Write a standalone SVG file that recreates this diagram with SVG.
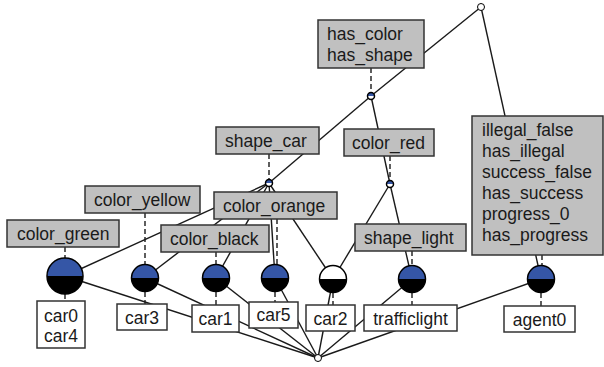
<svg xmlns="http://www.w3.org/2000/svg" xmlns:xlink="http://www.w3.org/1999/xlink" width="604" height="367" viewBox="0 0 604 367">
<style>
.e{stroke:#1a1a1a;stroke-width:1.4;fill:none}
.d{stroke:#1a1a1a;stroke-width:1.4;fill:none;stroke-dasharray:5,3}
.ab{fill:#c0c0c0;stroke:#333;stroke-width:1.5}
.ob{fill:#fff;stroke:#333;stroke-width:1.5}
text{font-family:"Liberation Sans",Arial,sans-serif;font-size:17.5px;fill:#1a1a1a}
.m{text-anchor:middle}
.blue{fill:#3556a6}
.blk{fill:#000}
.wht{fill:#fff}
.ring{fill:none;stroke:#000;stroke-width:1.5}
</style>
<defs>
<g id="medBB"><path class="blue" d="M-13.5,0A13.5,13.5 0 0 1 13.5,0Z"/><path class="blk" d="M-13.5,0A13.5,13.5 0 0 0 13.5,0Z"/><circle class="ring" r="13.5"/></g>
<g id="medWB"><path class="wht" d="M-13.5,0A13.5,13.5 0 0 1 13.5,0Z"/><path class="blk" d="M-13.5,0A13.5,13.5 0 0 0 13.5,0Z"/><circle class="ring" r="13.5"/></g>
<g id="bigBB"><path class="blue" d="M-18,0A18,18 0 0 1 18,0Z"/><path class="blk" d="M-18,0A18,18 0 0 0 18,0Z"/><circle class="ring" r="18"/></g>
<g id="smBW"><path class="blue" d="M-3.5,0A3.5,3.5 0 0 1 3.5,0Z"/><path class="wht" d="M-3.5,0A3.5,3.5 0 0 0 3.5,0Z"/><circle class="ring" r="3.5" stroke-width="1"/></g>
<g id="smWW"><circle r="3.5" fill="#fff" stroke="#000" stroke-width="1"/></g>
</defs>

<g id="connectors">
<line class="e" x1="481" y1="7" x2="371" y2="96"/>
<line class="e" x1="481" y1="7" x2="541" y2="279"/>
<line class="e" x1="371" y1="96" x2="269" y2="183"/>
<line class="e" x1="371" y1="96" x2="390" y2="184"/>
<line class="e" x1="269" y1="183" x2="65" y2="276"/>
<line class="e" x1="269" y1="183" x2="145" y2="278"/>
<line class="e" x1="269" y1="183" x2="216" y2="278"/>
<line class="e" x1="269" y1="183" x2="275" y2="278"/>
<line class="e" x1="269" y1="183" x2="333" y2="279"/>
<line class="e" x1="390" y1="184" x2="333" y2="279"/>
<line class="e" x1="390" y1="184" x2="412" y2="279"/>
<line class="e" x1="65" y1="276" x2="318" y2="358"/>
<line class="e" x1="145" y1="278" x2="318" y2="358"/>
<line class="e" x1="216" y1="278" x2="318" y2="358"/>
<line class="e" x1="275" y1="278" x2="318" y2="358"/>
<line class="e" x1="333" y1="279" x2="318" y2="358"/>
<line class="e" x1="412" y1="279" x2="318" y2="358"/>
<line class="e" x1="541" y1="279" x2="318" y2="358"/>
<!-- label leaders -->
<line class="d" x1="371" y1="68" x2="371" y2="92"/>
<line class="d" x1="269" y1="154" x2="269" y2="179"/>
<line class="d" x1="390" y1="156" x2="390" y2="180"/>
<line class="d" x1="65" y1="247" x2="65" y2="258"/>
<line class="d" x1="145" y1="213" x2="145" y2="264"/>
<line class="d" x1="216" y1="252" x2="216" y2="264"/>
<line class="d" x1="277" y1="219" x2="277" y2="264"/>
<line class="d" x1="412" y1="251" x2="412" y2="265"/>
<line class="d" x1="542" y1="255" x2="542" y2="265"/>
<line class="d" x1="65" y1="294" x2="65" y2="301"/>
<line class="d" x1="145" y1="292" x2="145" y2="304"/>
<line class="d" x1="216" y1="292" x2="216" y2="305"/>
<line class="d" x1="275" y1="292" x2="275" y2="302"/>
<line class="d" x1="333" y1="293" x2="333" y2="305"/>
<line class="d" x1="412" y1="293" x2="412" y2="305"/>
<line class="d" x1="541" y1="293" x2="541" y2="306"/>
</g>

<g id="top"><use xlink:href="#smWW" x="481" y="7"/></g>
<g id="bottom"><use xlink:href="#smWW" x="318" y="358"/></g>

<g id="n-has"><use xlink:href="#smBW" x="371" y="96"/>
<rect class="ab" x="318" y="20" width="106" height="48"/>
<text x="327" y="40">has_color</text><text x="327" y="61">has_shape</text></g>

<g id="n-shape-car"><use xlink:href="#smBW" x="269" y="183"/>
<rect class="ab" x="216" y="127" width="103" height="27"/>
<text x="225" y="147">shape_car</text></g>

<g id="n-color-red"><use xlink:href="#smBW" x="390" y="184"/>
<rect class="ab" x="344" y="129" width="90" height="27"/>
<text x="352" y="149">color_red</text></g>

<g id="n-green"><use xlink:href="#bigBB" x="65" y="276"/>
<rect class="ab" x="7" y="220" width="112" height="27"/>
<text x="17" y="240">color_green</text>
<rect class="ob" x="37" y="301" width="48" height="47"/>
<text class="m" x="61" y="322">car0</text><text class="m" x="61" y="342">car4</text></g>

<g id="n-yellow"><use xlink:href="#medBB" x="145" y="278"/>
<rect class="ab" x="85" y="186" width="115" height="27"/>
<text x="94" y="206">color_yellow</text>
<rect class="ob" x="117" y="304" width="50" height="26"/>
<text class="m" x="142" y="324">car3</text></g>

<g id="n-orange"><use xlink:href="#medBB" x="275" y="278"/>
<rect class="ab" x="214" y="192" width="123" height="27"/>
<text x="223" y="212">color_orange</text>
<rect class="ob" x="249" y="302" width="49" height="26"/>
<text class="m" x="273.500" y="321">car5</text></g>

<g id="n-black"><use xlink:href="#medBB" x="216" y="278"/>
<rect class="ab" x="161" y="225" width="108" height="27"/>
<text x="170" y="245">color_black</text>
<rect class="ob" x="192" y="305" width="47" height="27"/>
<text class="m" x="215.500" y="325">car1</text></g>

<g id="n-car2"><use xlink:href="#medWB" x="333" y="279"/>
<rect class="ob" x="306" y="305" width="49" height="26"/>
<text class="m" x="330.500" y="325">car2</text></g>

<g id="n-light"><use xlink:href="#medBB" x="412" y="279"/>
<rect class="ab" x="355" y="224" width="111" height="27"/>
<text x="364" y="244">shape_light</text>
<rect class="ob" x="364" y="305" width="93" height="26"/>
<text class="m" x="410.500" y="325">trafficlight</text></g>

<g id="n-agent"><use xlink:href="#medBB" x="541" y="279"/>
<rect class="ab" x="472" y="116" width="131" height="139"/>
<text x="482" y="136">illegal_false</text>
<text x="482" y="157">has_illegal</text>
<text x="482" y="178">success_false</text>
<text x="482" y="199">has_success</text>
<text x="482" y="220">progress_0</text>
<text x="482" y="241">has_progress</text>
<rect class="ob" x="504" y="306" width="71" height="26"/>
<text class="m" x="539.500" y="326">agent0</text></g>
</svg>
